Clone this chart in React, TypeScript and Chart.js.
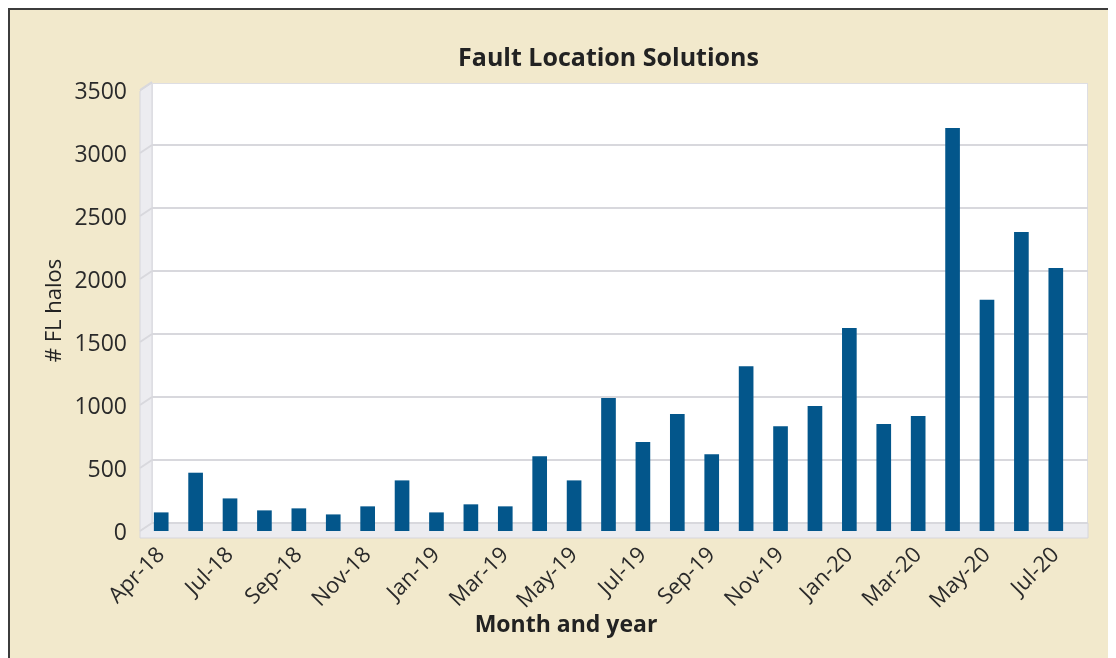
import React, { useEffect, useRef } from "react";
import { Chart, registerables } from "chart.js";

Chart.register(...registerables);

const CHART_TITLE = "Fault Location Solutions";
const X_TITLE = "Month and year";
const Y_TITLE = "# FL halos";

const months = [
  "Apr-18", "Jun-18", "Jul-18", "Aug-18", "Sep-18", "Oct-18", "Nov-18", "Dec-18",
  "Jan-19", "Feb-19", "Mar-19", "Apr-19", "May-19", "Jun-19", "Jul-19", "Aug-19",
  "Sep-19", "Oct-19", "Nov-19", "Dec-19", "Jan-20", "Feb-20", "Mar-20", "Apr-20",
  "May-20", "Jun-20", "Jul-20",
];

const flHalos = [
  145, 460, 256, 161, 177, 129, 193, 399,
  145, 209, 193, 590, 399, 1053, 704, 926,
  606, 1304, 828, 989, 1609, 847, 910, 3196,
  1833, 2371, 2085,
];

const yTicks = [0, 500, 1000, 1500, 2000, 2500, 3000, 3500];

const FONT = '"Open Sans", "Noto Sans", sans-serif';

const wallPlugin = {
  id: "wall3d",
  beforeDraw(chart: any) {
    const { ctx, chartArea: ca, scales } = chart;
    const ys = scales.y;
    const backL = ca.left + 8;
    const backR = ca.right + 15;
    const backT = ca.top - 7;
    const backB = ca.bottom - 8;
    const frontL = ca.left - 4;
    const frontB = ca.bottom + 7;
    ctx.save();
    // left wall
    ctx.beginPath();
    ctx.moveTo(backL, backT);
    ctx.lineTo(backL, backB);
    ctx.lineTo(frontL, ca.bottom);
    ctx.lineTo(frontL, ca.top + 1);
    ctx.closePath();
    ctx.fillStyle = "#ECECF0";
    ctx.fill();
    ctx.strokeStyle = "#D6D6DC";
    ctx.lineWidth = 1;
    ctx.stroke();
    // floor
    ctx.beginPath();
    ctx.moveTo(backL, backB);
    ctx.lineTo(backR, backB);
    ctx.lineTo(backR, frontB);
    ctx.lineTo(frontL, frontB);
    ctx.lineTo(frontL, ca.bottom);
    ctx.closePath();
    ctx.fillStyle = "#ECECF0";
    ctx.fill();
    ctx.strokeStyle = "#D6D6DC";
    ctx.stroke();
    // back wall
    ctx.fillStyle = "#FFFFFF";
    ctx.fillRect(backL, backT, backR - backL, backB - backT);
    ctx.strokeStyle = "#DEDEE3";
    ctx.strokeRect(backL + 0.5, backT + 0.5, backR - backL - 1, backB - backT);
    // gridlines
    ctx.strokeStyle = "#D8D8DD";
    ctx.lineWidth = 2;
    for (const v of yTicks) {
      const py = ys.getPixelForValue(v);
      const by = py - 8;
      ctx.beginPath();
      if (v > 0 && v < 3500) {
        ctx.moveTo(backL, by);
        ctx.lineTo(backR, by);
      }
      ctx.moveTo(frontL, py);
      ctx.lineTo(backL, by);
      ctx.stroke();
    }
    ctx.beginPath();
    ctx.moveTo(backL, backB);
    ctx.lineTo(backR, backB);
    ctx.stroke();
    ctx.restore();
  },
  afterDraw(chart: any) {
    const { ctx } = chart;
    ctx.save();
    ctx.font = `bold 23px ${FONT}`;
    ctx.fillStyle = "#222222";
    ctx.textAlign = "center";
    ctx.textBaseline = "middle";
    ctx.fillText(X_TITLE, 556, 615);
    ctx.restore();
  },
};

export default function App() {
  const ref = useRef<HTMLCanvasElement | null>(null);
  useEffect(() => {
    if (!ref.current) return;
    const chart = new Chart(ref.current, {
      type: "bar",
      data: {
        labels: months,
        datasets: [
          {
            label: Y_TITLE,
            data: flHalos,
            backgroundColor: "#03568B",
            borderWidth: 0,
            barThickness: 14,
          },
        ],
      },
      options: {
        responsive: true,
        maintainAspectRatio: false,
        animation: false,
        layout: { padding: { left: 10, right: 43, top: 20, bottom: 10 } },
        plugins: {
          legend: { display: false },
          tooltip: { enabled: false },
          title: {
            display: true,
            text: CHART_TITLE,
            fullSize: false,
            color: "#222222",
            font: { family: FONT, size: 25, weight: "bold" },
            padding: { top: 14, bottom: 16 },
          },
        },
        scales: {
          x: {
            grid: { display: false },
            border: { display: false },
            afterFit: (s: any) => {
              s.height = 117;
            },
            ticks: {
              autoSkip: false,
              minRotation: 45,
              maxRotation: 45,
              padding: 3,
              color: "#2a2a2a",
              font: { family: FONT, size: 22 },
              callback: (_v: any, i: number) => (i % 2 === 0 ? months[i] : ""),
            },
          },
          y: {
            min: 0,
            max: 3500,
            grid: { display: false, drawTicks: false },
            border: { display: false },
            afterFit: (s: any) => {
              s.width = 124;
            },
            afterBuildTicks: (s: any) => {
              s.ticks = yTicks.map((v) => ({ value: v }));
            },
            ticks: {
              padding: 17,
              labelOffset: 2,
              color: "#2a2a2a",
              font: { family: FONT, size: 23 },
              callback: (v: any) => String(v),
            },
            title: {
              display: true,
              text: Y_TITLE,
              color: "#222222",
              font: { family: FONT, size: 22 },
              padding: { top: 22, bottom: 0 },
            },
          },
        },
      },
      plugins: [wallPlugin],
    });
    return () => chart.destroy();
  }, []);

  return (
    <div
      style={{
        width: 1106,
        height: 648,
        borderLeft: "2px solid #3c3c3c",
        borderTop: "2px solid #3c3c3c",
        background: "#F2E9CC",
        position: "relative",
      }}
    >
      <canvas ref={ref} />
    </div>
  );
}
